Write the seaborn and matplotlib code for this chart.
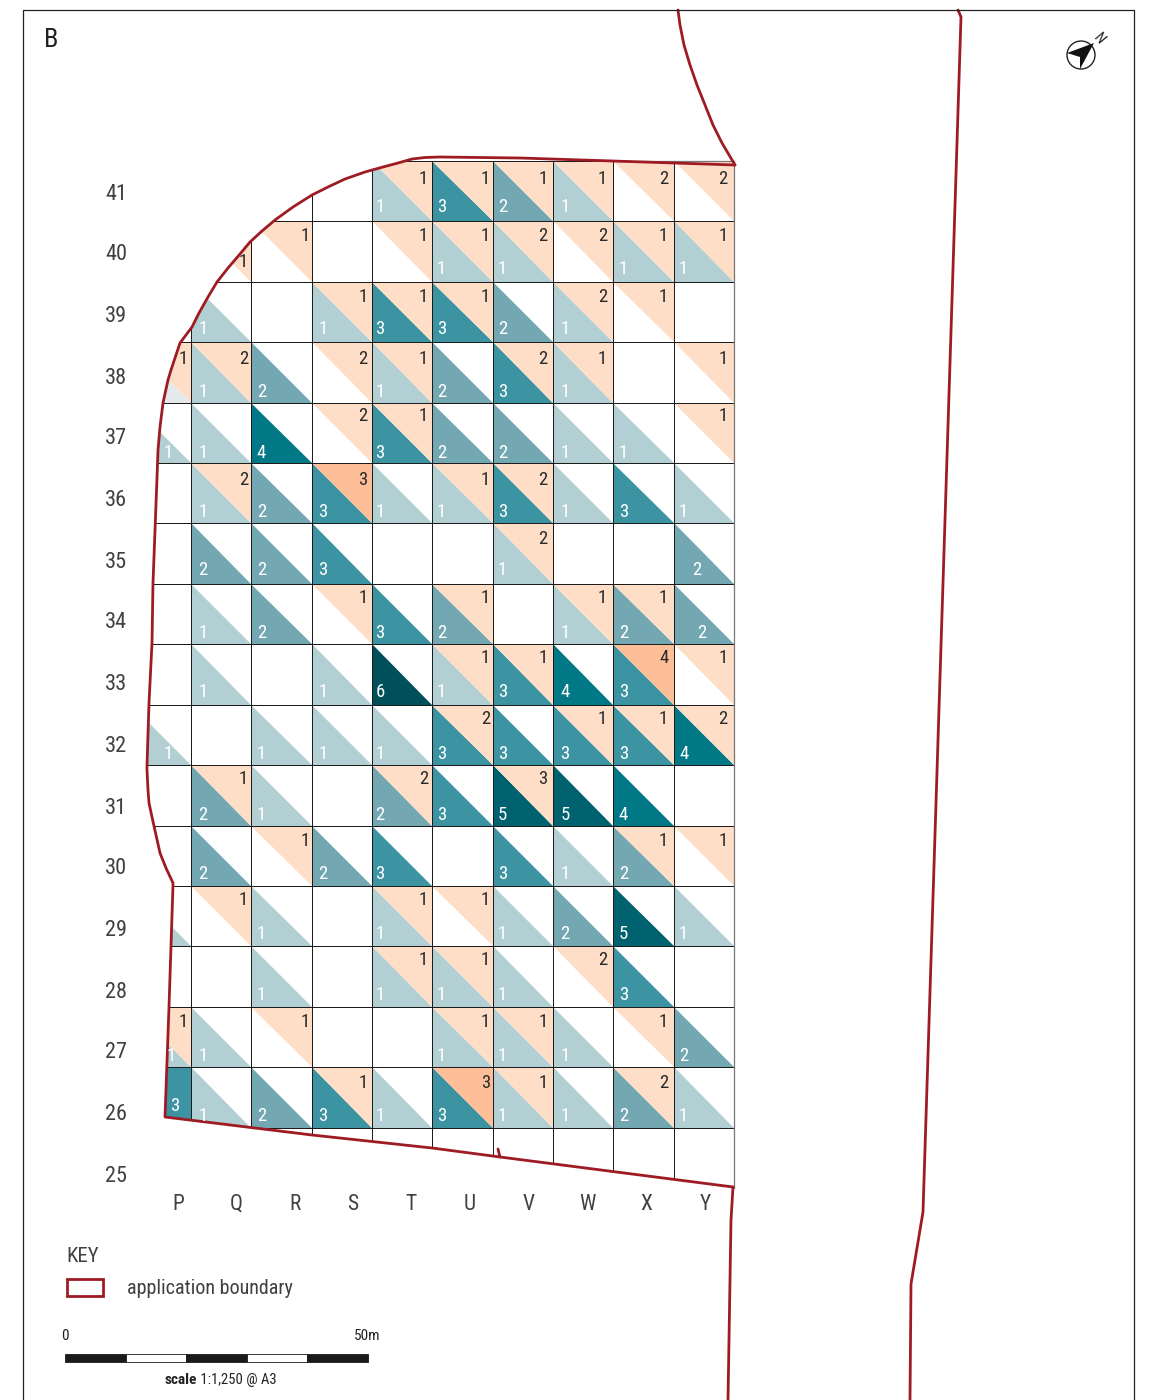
import matplotlib
matplotlib.use("Agg")
import logging
import numpy as np
import matplotlib.pyplot as plt
import seaborn as sns
from matplotlib.colors import ListedColormap
from matplotlib.patches import Circle, Rectangle
from matplotlib.path import Path

logging.getLogger("matplotlib.font_manager").setLevel(logging.ERROR)

# grid squares, columns left to right, rows top to bottom
cols = list("PQRSTUVWXY")
rows = [41, 40, 39, 38, 37, 36, 35, 34, 33, 32, 31, 30, 29, 28, 27, 26, 25]

# count in the lower left triangle of each square
teal_counts = [
    [0, 0, 0, 0, 1, 3, 2, 1, 0, 0],
    [0, 0, 0, 0, 0, 1, 1, 0, 1, 1],
    [0, 1, 0, 1, 3, 3, 2, 1, 0, 0],
    [0, 1, 2, 0, 1, 2, 3, 1, 0, 0],
    [1, 1, 4, 0, 3, 2, 2, 1, 1, 0],
    [0, 1, 2, 3, 1, 1, 3, 1, 3, 1],
    [0, 2, 2, 3, 0, 0, 1, 0, 0, 2],
    [0, 1, 2, 0, 3, 2, 0, 1, 2, 2],
    [0, 1, 0, 1, 6, 1, 3, 4, 3, 0],
    [1, 0, 1, 1, 1, 3, 3, 3, 3, 4],
    [0, 2, 1, 0, 2, 3, 5, 5, 4, 0],
    [0, 2, 0, 2, 3, 0, 3, 1, 2, 0],
    [1, 0, 1, 0, 1, 0, 1, 2, 5, 1],
    [0, 0, 1, 0, 1, 1, 1, 0, 3, 0],
    [1, 1, 0, 0, 0, 1, 1, 1, 0, 2],
    [3, 1, 2, 3, 1, 3, 1, 1, 2, 1],
    [0, 0, 0, 0, 0, 0, 0, 0, 0, 0],
]

# count in the upper right triangle of each square
orange_counts = [
    [0, 0, 0, 0, 1, 1, 1, 1, 2, 2],
    [0, 1, 1, 0, 1, 1, 2, 2, 1, 1],
    [0, 0, 0, 1, 1, 1, 0, 2, 1, 0],
    [1, 2, 0, 2, 1, 0, 2, 1, 0, 1],
    [0, 0, 0, 2, 1, 0, 0, 0, 0, 1],
    [0, 2, 0, 3, 0, 1, 2, 0, 0, 0],
    [0, 0, 0, 0, 0, 0, 2, 0, 0, 0],
    [0, 0, 0, 1, 0, 1, 0, 1, 1, 0],
    [0, 0, 0, 0, 0, 1, 1, 0, 4, 1],
    [0, 0, 0, 0, 0, 2, 0, 1, 1, 2],
    [0, 1, 0, 0, 2, 0, 3, 0, 0, 0],
    [0, 0, 1, 0, 0, 0, 0, 0, 1, 1],
    [0, 1, 0, 0, 1, 1, 0, 0, 0, 0],
    [0, 0, 0, 0, 1, 1, 0, 2, 0, 0],
    [1, 0, 1, 0, 0, 1, 1, 0, 1, 0],
    [0, 0, 0, 1, 0, 3, 1, 0, 2, 0],
    [0, 0, 0, 0, 0, 0, 0, 0, 0, 0],
]

teal_colors = {1: "#B2CFD3", 2: "#73A7B2", 3: "#3C93A1", 4: "#007886", 5: "#00626E", 6: "#00505B"}
orange_colors = {1: "#FEDEC6", 2: "#FEDEC6", 3: "#FEBF98", 4: "#FEBF98"}

# boundary traced from the plan, page pixels
site_x = [735, 613, 520, 440, 425, 412, 398, 383, 365, 345, 328, 312, 293, 275, 262, 250, 240, 228, 217, 208,
          199, 192, 180, 175, 171, 168, 163, 160, 158, 157, 153, 152, 149, 147, 147, 148, 149, 152, 156, 160,
          166, 173, 173, 169, 165, 312, 432, 500, 733]
site_y = [165, 161, 158, 157, 157.5, 159, 163, 167, 172, 179, 187, 195, 207, 220, 231, 242, 254, 268, 282, 297,
          313, 327, 343, 358, 370, 380, 403, 427, 450, 478, 583, 643, 703, 765, 770, 790, 803, 817, 835, 853,
          868, 883, 885, 1007, 1117, 1135, 1148, 1157, 1187]
north_x = [735, 722, 713, 705, 697, 690, 684, 680, 678]
north_y = [165, 143, 125, 105, 85, 65, 45, 25, 10]
south_x = [733, 731, 728]
south_y = [1187, 1220, 1400]
east_x = [958, 961, 923, 911, 910]
east_y = [10, 17, 1212, 1284, 1400]

row_label_y = [192, 253, 315, 376, 437, 499, 560, 621, 683, 744, 806, 867, 928, 990, 1051, 1112, 1174]
col_label_x = [178, 236, 295, 353, 411, 470, 529, 587, 646, 705]

scale_edges = [65, 125.5, 185.5, 246.5, 306.5, 368]
scale_colors = ["#1a1a1a", "white", "#1a1a1a", "white", "#1a1a1a"]

RED = "#9E1B24"
W, H = 1152, 1400
GX0, GX1, GY0, GY1 = 130.7, 734, 161, 1188

sns.set_theme(style="white")
plt.rcParams["font.family"] = ["Liberation Sans Narrow", "Roboto Condensed", "Open Sans Condensed", "Noto Sans", "DejaVu Sans"]

fig = plt.figure(figsize=(W / 100, H / 100), dpi=100, facecolor="white")

# page axes in pixels, for the outline and the lettering
page = fig.add_axes([0, 0, 1, 1], zorder=2)
page.set_xlim(0, W)
page.set_ylim(H, 0)
page.axis("off")

ax = fig.add_axes([GX0 / W, 1 - GY1 / H, (GX1 - GX0) / W, (GY1 - GY0) / H], zorder=1)
clip_x = site_x[1:] + [737, 737, site_x[1]]
clip_y = site_y[1:] + [1190, 159, site_y[1]]
clip = Path(np.column_stack([clip_x, clip_y]), closed=True)

n_rows, n_cols = len(rows), len(cols)
clear = ListedColormap([(1, 1, 1, 0)])
sns.heatmap(np.zeros((n_rows, n_cols)), cmap=clear, cbar=False, linewidths=0.55, linecolor="#1c1c1c",
            xticklabels=False, yticklabels=False, ax=ax, zorder=3)
ax.collections[0].set_clip_path(clip, page.transData)

orange_y = [18, 15, 15, 17, 13, 17, 16, 14, 14, 14, 14, 15, 14, 14, 15, 16, 15]
teal_y = [14, 13, 13, 11, 10, 11, 14, 11, 13, 11, 11, 12, 12, 12, 11, 12, 12]
teal_dx = [10, 12, 10, 11, 8, 9, 10, 12, 10, 10]
orange_dx = [8, 8, 6, 9, 9, 7, 10, 11, 10, 11]
teal_x_override = {(0, 4): 168, (0, 9): 168, (0, 14): 171, (0, 15): 175, (9, 6): 697, (9, 7): 702}
teal_y_override = {(0, 15): 1106}
orange_y_override = {(1, 1): 262}
no_label = {(0, 12)}
pale_orange = {(6, 10)}  # V31 has a 3 on the lighter tint

for r in range(n_rows):
    for c in range(n_cols):
        t, o = teal_counts[r][c], orange_counts[r][c]
        if t:
            if (c, r) == (0, 15):
                xs, ys = [c, c + 1, c + 1, c], [r, r, r + 1, r + 1]
            else:
                xs, ys = [c, c, c + 1], [r, r + 1, r + 1]
            for patch in ax.fill(xs, ys, color=teal_colors[t], lw=0, zorder=1):
                patch.set_clip_path(clip, page.transData)
        if o:
            col = orange_colors[1] if (c, r) in pale_orange else orange_colors[o]
            for patch in ax.fill([c, c + 1, c + 1], [r, r, r + 1], color=col, lw=0, zorder=1):
                patch.set_clip_path(clip, page.transData)

        x0 = GX0 + c * (GX1 - GX0) / n_cols
        y0 = GY0 + r * (GY1 - GY0) / n_rows
        if t and (c, r) not in no_label:
            tx = teal_x_override.get((c, r), x0 + teal_dx[c])
            ty = teal_y_override.get((c, r), y0 + 60.4 - teal_y[r])
            page.text(tx, ty, str(t), color="white", fontsize=13.5, ha="center", va="center")
        if o:
            oy = orange_y_override.get((c, r), y0 + orange_y[r])
            page.text(x0 + 60.3 - orange_dx[c], oy, str(o), color="#2a2a2a", fontsize=13.5,
                      ha="center", va="center")

# pale part of P38, no count on it
for patch in ax.fill([0, 0, 1], [3, 4, 4], color="#E3E9EC", lw=0, zorder=1):
    patch.set_clip_path(clip, page.transData)

# outer edge of the grid is greyer in the plan
page.plot([613, GX1, GX1], [GY0, GY0, GY1], color="#777777", lw=0.9)

page.plot(site_x, site_y, color=RED, lw=2, solid_joinstyle="round")
page.plot(north_x, north_y, color=RED, lw=2)
page.plot(south_x, south_y, color=RED, lw=2)
page.plot(east_x, east_y, color=RED, lw=2)
page.plot([500, 498], [1157, 1149], color=RED, lw=2)

# page frame, runs off the bottom
page.plot([23, 23, 1134, 1134], [1400, 10, 10, 1400], color="#222222", lw=0.9)

for lab, y in zip(rows, row_label_y):
    page.text(116, y + 2, str(lab), color="#404040", fontsize=16, ha="center", va="center")
for lab, x in zip(cols, col_label_x):
    page.text(x, 1204, lab, color="#404040", fontsize=15.5, ha="center", va="center")

page.text(51, 40, "B", color="#222222", fontsize=19, ha="center", va="center")

# north arrow
page.add_patch(Circle((1081, 55), 14, fc="white", ec="#222222", lw=1))
page.fill([1094, 1067, 1080, 1080], [43, 53, 57, 69], color="#111111", lw=0)
page.text(1099, 39, "N", color="#222222", fontsize=11, rotation=-50, ha="center", va="center")

# key
page.text(66, 1256, "KEY", color="#404040", fontsize=15, ha="left", va="center")
page.add_patch(Rectangle((67, 1279), 36, 17, fc="white", ec=RED, lw=2))
page.text(127, 1288, "application boundary", color="#404040", fontsize=14.5, ha="left", va="center")

# scale bar
page.bar(scale_edges[:-1], 8, width=np.diff(scale_edges), bottom=1354, align="edge",
         color=scale_colors, edgecolor="#1a1a1a", linewidth=0.6)
page.text(65, 1336, "0", color="#222222", fontsize=11, ha="center", va="center")
page.text(367, 1336, "50m", color="#222222", fontsize=11, ha="center", va="center")
page.text(197, 1380, "scale", color="#222222", fontsize=11, fontweight="bold", ha="right", va="center")
page.text(197, 1380, " 1:1,250 @ A3", color="#222222", fontsize=10.5, ha="left", va="center")

page.set_xlim(0, W)
page.set_ylim(H, 0)
fig.savefig("out.png", dpi=100)
